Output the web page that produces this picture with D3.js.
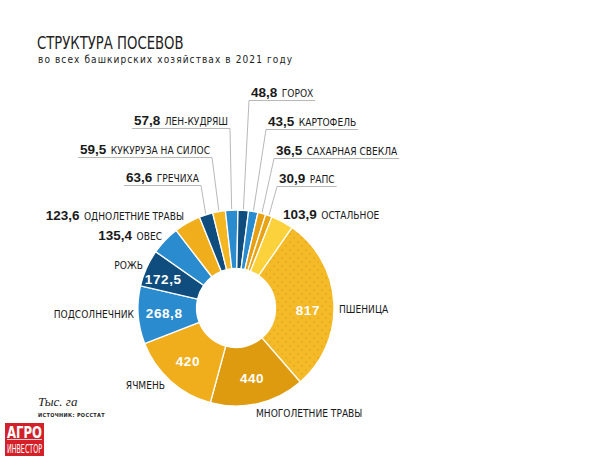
<!DOCTYPE html>
<html>
<head>
<meta charset="utf-8">
<script src="https://cdn.jsdelivr.net/npm/d3@7"></script>
<style>
  body { margin: 0; background: #fff; }
  svg text { font-family: "DejaVu Sans Condensed", "DejaVu Sans", sans-serif; }
  svg text.num { font-family: "Liberation Sans", Arial, sans-serif; font-weight: bold; }
  svg text.serif { font-family: "Liberation Serif", "DejaVu Serif", serif; font-style: italic; }
</style>
</head>
<body>
<div id="chart"></div>
<script>
// данные: тыс. га, по часовой стрелке начиная с пшеницы
const crops = ["ПШЕНИЦА", "МНОГОЛЕТНИЕ ТРАВЫ", "ЯЧМЕНЬ", "ПОДСОЛНЕЧНИК", "РОЖЬ", "ОВЕС",
  "ОДНОЛЕТНИЕ ТРАВЫ", "ГРЕЧИХА", "КУКУРУЗА НА СИЛОС", "ЛЕН-КУДРЯШ", "ГОРОХ", "КАРТОФЕЛЬ",
  "САХАРНАЯ СВЕКЛА", "РАПС", "ОСТАЛЬНОЕ"];
const areas = [817, 440, 420, 268.8, 172.5, 135.4, 123.6, 63.6, 59.5, 57.8, 48.8, 43.5, 36.5, 30.9, 103.9];

const sliceColors = ["url(#dots)", "#de9b0f", "#f0ae1c", "#2b8bcf", "#0f4d7e", "#2b8bcf",
  "#f0ae1c", "#0f4d7e", "#f4b722", "#2b8bcf", "#0f4d7e", "#2b8bcf", "#e7a013", "#e9a416", "#fcd23c"];

// где стоят подписи (x, y базовой линии, выравнивание, сноска с линией)
const labelLayout = [
  { x: 339, y: 313, anchor: "start", inside: true, ny: 6 },
  { x: 256, y: 417, anchor: "start", inside: true },
  { x: 165, y: 389, anchor: "end", inside: true },
  { x: 134, y: 318, anchor: "end", inside: true },
  { x: 143, y: 269, anchor: "end", inside: true, nx: -7 },
  { x: 162, y: 240, anchor: "end" },
  { x: 184, y: 220, anchor: "end" },
  { x: 199, y: 182, anchor: "end", leader: true },
  { x: 210, y: 154, anchor: "end", leader: true },
  { x: 228, y: 125, anchor: "end", leader: true },
  { x: 251, y: 97, anchor: "start", leader: true },
  { x: 268, y: 126, anchor: "start", leader: true },
  { x: 276, y: 155, anchor: "start", leader: true },
  { x: 279, y: 183, anchor: "start", leader: true },
  { x: 283, y: 219, anchor: "start" }
];

const fmt = v => String(v).replace(".", ",");

const width = 600, height = 460;
const cx = 236, cy = 308, outerR = 98, innerR = 39.5;

const svg = d3.select("#chart").append("svg")
  .attr("width", width).attr("height", height)
  .attr("viewBox", `0 0 ${width} ${height}`);

const defs = svg.append("defs");
const pat = defs.append("pattern").attr("id", "dots")
  .attr("width", 8).attr("height", 8).attr("patternUnits", "userSpaceOnUse");
pat.append("rect").attr("width", 8).attr("height", 8).attr("fill", "#f4ba28");
pat.append("circle").attr("cx", 2).attr("cy", 2).attr("r", 0.8).attr("fill", "#dda21c");
pat.append("circle").attr("cx", 6).attr("cy", 6).attr("r", 0.8).attr("fill", "#dda21c");

// заголовок
svg.append("text").attr("transform", "translate(37,49) scale(0.84,1)")
  .attr("font-size", 17.5).attr("fill", "#222")
  .text("СТРУКТУРА ПОСЕВОВ");
svg.append("text").attr("x", 38).attr("y", 63)
  .attr("font-size", 10).attr("fill", "#222").attr("letter-spacing", 1.1)
  .text("во всех башкирских хозяйствах в 2021 году");

const startA = 34.8 * Math.PI / 180;
const pie = d3.pie().sort(null).value(d => d)
  .startAngle(startA).endAngle(startA + 2 * Math.PI);
const arcs = pie(areas);

const arc = d3.arc().innerRadius(innerR).outerRadius(outerR);
const labelArc = d3.arc().innerRadius(72).outerRadius(72);

const g = svg.append("g").attr("transform", `translate(${cx},${cy})`);

g.selectAll("path.slice").data(arcs).enter().append("path")
  .attr("class", "slice")
  .attr("d", arc)
  .attr("fill", (d, i) => sliceColors[i])
  .attr("stroke", "#fff")
  .attr("stroke-width", 1.3);

// значения внутри кольца
g.selectAll("text.val").data(arcs.filter((d, i) => labelLayout[i].inside)).enter().append("text")
  .attr("class", "num val")
  .attr("x", d => labelArc.centroid(d)[0] + (labelLayout[d.index].nx || 0))
  .attr("y", d => labelArc.centroid(d)[1] + (labelLayout[d.index].ny || 0))
  .attr("dy", "0.36em")
  .attr("text-anchor", "middle")
  .attr("font-size", 13.5)
  .attr("letter-spacing", 0.6).attr("fill", "#fff")
  .text(d => fmt(d.data));

// сноски
const outerPt = d => {
  const a = (d.startAngle + d.endAngle) / 2;
  return [cx + (outerR + 1) * Math.sin(a), cy - (outerR + 1) * Math.cos(a)];
};

const labels = svg.append("g");
arcs.forEach((d, i) => {
  const L = labelLayout[i];
  const name = labels.append("text")
    .attr("y", L.y).attr("font-size", 10.1).attr("fill", "#1a1a1a")
    .text(crops[i]);
  let left, right;
  if (L.inside) {
    name.attr("x", L.x).attr("text-anchor", L.anchor);
    return;
  }
  const num = labels.append("text").attr("class", "num")
    .attr("y", L.y).attr("font-size", 13.5).attr("fill", "#1a1a1a")
    .text(fmt(areas[i]));
  const wn = num.node().getComputedTextLength();
  const wt = name.node().getComputedTextLength();
  const gap = 4.5;
  if (L.anchor === "end") {
    right = L.x; left = L.x - wt - gap - wn;
  } else {
    left = L.x; right = L.x + wn + gap + wt;
  }
  num.attr("x", left);
  name.attr("x", left + wn + gap);
  if (L.leader) {
    const ly = L.y + 3.5;
    const x0 = left - 2, x1 = right + 2;
    const joinX = L.anchor === "end" ? x1 : x0;
    const p = outerPt(d);
    labels.append("path")
      .attr("d", `M${x0},${ly}H${x1}M${joinX},${ly}L${p[0]},${p[1]}`)
      .attr("fill", "none").attr("stroke", "#9a9a9a").attr("stroke-width", 0.7);
  }
});

// подвал
svg.append("text").attr("class", "serif").attr("x", 38).attr("y", 406)
  .attr("font-size", 13).attr("fill", "#222").text("Тыс. га");
svg.append("text").attr("x", 38).attr("y", 417)
  .attr("font-size", 5.5).attr("font-weight", "bold").attr("letter-spacing", 0.35)
  .attr("fill", "#222").text("ИСТОЧНИК: РОССТАТ");

const logo = svg.append("g");
logo.append("rect").attr("x", 5).attr("y", 423).attr("width", 39).attr("height", 33).attr("fill", "#d42029");
logo.append("text").attr("x", 7).attr("y", 437.5).attr("font-size", 15).attr("font-weight", "bold")
  .attr("fill", "#fff").attr("textLength", 35).attr("lengthAdjust", "spacingAndGlyphs").text("АГРО");
logo.append("line").attr("x1", 7).attr("x2", 42).attr("y1", 439.5).attr("y2", 439.5)
  .attr("stroke", "#fff").attr("stroke-width", 0.8);
logo.append("text").attr("x", 7).attr("y", 452.5).attr("font-size", 13)
  .attr("fill", "#fff").attr("textLength", 35).attr("lengthAdjust", "spacingAndGlyphs").text("ИНВЕСТОР");
</script>
</body>
</html>
